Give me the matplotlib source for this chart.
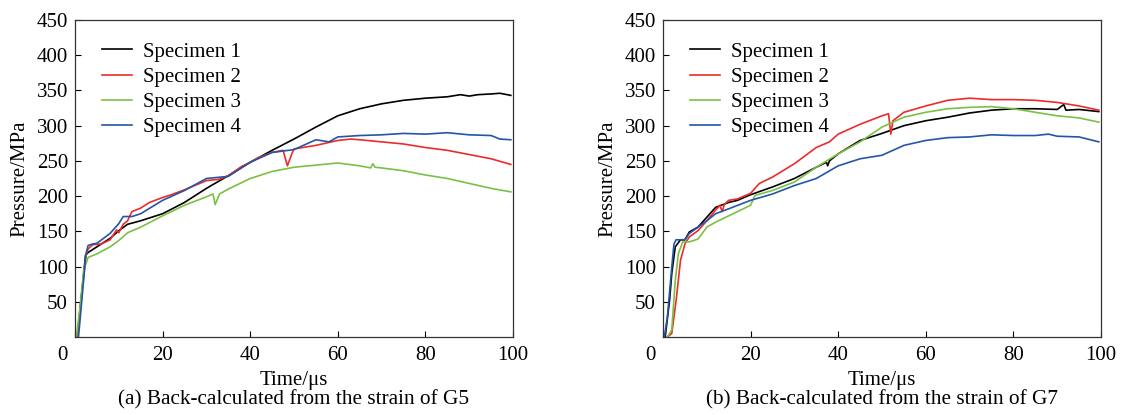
import matplotlib.pyplot as plt
import matplotlib.transforms as mtransforms

plt.rcParams['font.family'] = ['Liberation Serif', 'DejaVu Serif']
plt.rcParams['font.size'] = 15

# (a) back-calculated from the strain of G5
a_t1 = [0.5, 1.5, 2.4, 3, 5, 8, 10, 12, 15, 20, 25, 30, 35, 40, 45, 50, 55, 60, 65, 70, 75, 80, 85, 88, 90, 92, 95, 97, 99.5]
a_p1 = [0, 60, 116, 120, 128, 140, 151, 160, 165, 175, 191, 211, 229, 248, 265, 281, 298, 314, 324, 331, 336, 339, 341, 344, 342, 344, 345, 346, 343]
a_t2 = [0.5, 1.5, 2.5, 3, 4, 6, 8, 9.5, 10, 11, 12, 13, 15, 17, 20, 22, 25, 30, 33, 35, 38, 40, 42, 45, 47.5, 48.5, 49.5, 50, 55, 60, 63, 65, 70, 75, 80, 85, 90, 95, 99.5]
a_p2 = [0, 60, 115, 125, 131, 132, 138, 152, 148, 160, 165, 178, 183, 191, 198, 202, 209, 222, 224, 229, 242, 248, 255, 262, 265, 243, 260, 267, 272, 279, 281, 280, 277, 274, 269, 265, 259, 253, 245]
a_t3 = [0.3, 1.2, 2, 3, 5, 8, 10, 12, 15, 20, 25, 30, 31.5, 32, 33, 35, 40, 45, 50, 55, 60, 65, 67.5, 68, 68.5, 70, 75, 80, 85, 90, 95, 99.5]
a_p3 = [0, 45, 95, 113, 118, 128, 137, 148, 156, 172, 187, 199, 203, 188, 203, 210, 225, 235, 241, 244, 247, 243, 240, 246, 241, 240, 236, 230, 225, 218, 211, 206]
a_t4 = [0.8, 1.6, 2.5, 3, 4, 5, 8, 10, 11, 13, 15, 20, 25, 30, 35, 40, 45, 50, 55, 58, 60, 65, 70, 75, 80, 85, 90, 95, 97, 99.5]
a_p4 = [0, 55, 118, 130, 132, 133, 147, 161, 171, 171, 175, 194, 208, 225, 228, 248, 262, 266, 280, 277, 284, 286, 287, 289, 288, 290, 287, 286, 281, 280]

# (b) back-calculated from the strain of G7
b_t1 = [0.5, 1.5, 2, 2.8, 4, 5, 6, 8, 10, 12, 15, 17, 20, 25, 30, 35, 37.3, 37.6, 38, 40, 45, 50, 55, 60, 65, 70, 75, 80, 85, 90, 91.5, 92, 95, 99.5]
b_p1 = [0, 52, 90, 128, 138, 138, 149, 156, 170, 184, 191, 194, 202, 213, 225, 241, 248, 243, 250, 260, 279, 289, 300, 307, 312, 318, 322, 324, 324, 323, 330, 322, 323, 320]
b_t2 = [1, 2, 3, 4, 5, 6, 8, 10, 12, 13, 13.5, 14, 15, 17, 20, 22, 25, 30, 35, 38, 40, 45, 50, 51.5, 52, 52.5, 55, 60, 65, 70, 75, 80, 85, 90, 95, 99.5]
b_p2 = [0, 5, 52, 109, 132, 142, 151, 165, 180, 187, 178, 188, 194, 196, 204, 218, 227, 246, 269, 277, 288, 302, 314, 317, 288, 307, 319, 328, 336, 339, 337, 337, 336, 333, 328, 322]
b_t3 = [1, 2, 2.8, 3.5, 4.5, 6, 8, 10, 12, 15, 20, 21, 25, 30, 35, 40, 45, 50, 55, 60, 65, 70, 75, 80, 85, 90, 95, 99.5]
b_p3 = [0, 10, 80, 118, 135, 135, 139, 156, 163, 172, 187, 201, 208, 220, 241, 260, 277, 298, 312, 319, 324, 326, 327, 324, 319, 314, 311, 305]
b_t4 = [0.3, 1, 2, 2.5, 3, 5, 6, 8, 10, 12, 15, 20, 25, 30, 35, 40, 45, 50, 55, 60, 65, 70, 75, 80, 85, 88, 90, 95, 99.5]
b_p4 = [0, 28, 99, 132, 138, 138, 147, 156, 165, 175, 182, 194, 203, 215, 225, 243, 253, 258, 272, 279, 283, 284, 287, 286, 286, 288, 285, 284, 277]

labels = ['Specimen 1', 'Specimen 2', 'Specimen 3', 'Specimen 4']
colors = ['#000000', '#ee2a2a', '#7ac143', '#2456a6']
captions = ['(a) Back-calculated from the strain of G5', '(b) Back-calculated from the strain of G7']

panels = [
    [(a_t1, a_p1), (a_t2, a_p2), (a_t3, a_p3), (a_t4, a_p4)],
    [(b_t1, b_p1), (b_t2, b_p2), (b_t3, b_p3), (b_t4, b_p4)],
]

fig = plt.figure(figsize=(11.23, 4.15), dpi=100)
ax1 = fig.add_axes([75 / 1123, 78 / 415, 438 / 1123, 317 / 415])
ax2 = fig.add_axes([663 / 1123, 78 / 415, 438 / 1123, 317 / 415])

for ax, series, cap in zip([ax1, ax2], panels, captions):
    for (t, p), lab, c in zip(series, labels, colors):
        ax.plot(t, p, color=c, lw=1.2, label=lab)
    ax.set_xlim(0, 100)
    ax.set_ylim(0, 450)
    ax.set_xticks([0, 20, 40, 60, 80, 100])
    ax.set_yticks([50, 100, 150, 200, 250, 300, 350, 400, 450])
    ax.tick_params(direction='in', length=4, width=0.8, labelsize=15)
    ax.tick_params(axis='x', pad=6.5)
    ax.tick_params(axis='y', pad=5)
    for s in ax.spines.values():
        s.set_linewidth(0.9)
        s.set_color('#333333')
    # the "0" at the origin sits left of the corner
    lbl = ax.get_xticklabels()[0]
    lbl.set_transform(lbl.get_transform() + mtransforms.ScaledTranslation(-13 / 100, 0, fig.dpi_scale_trans))
    ax.set_xlabel('Time/μs', fontsize=15, labelpad=4)
    ax.set_ylabel('Pressure/MPa', fontsize=15, labelpad=5)
    ax.legend(loc='upper left', bbox_to_anchor=(0.062, 0.93), frameon=False,
              handlelength=1.45, handletextpad=0.5, labelspacing=0.27,
              borderpad=0, borderaxespad=0, fontsize=15)
    bb = ax.get_position()
    fig.text(bb.x0 + bb.width / 2, 15 / 415, cap, ha='center', va='center', fontsize=15.3)

plt.savefig('out.png', dpi=100)
